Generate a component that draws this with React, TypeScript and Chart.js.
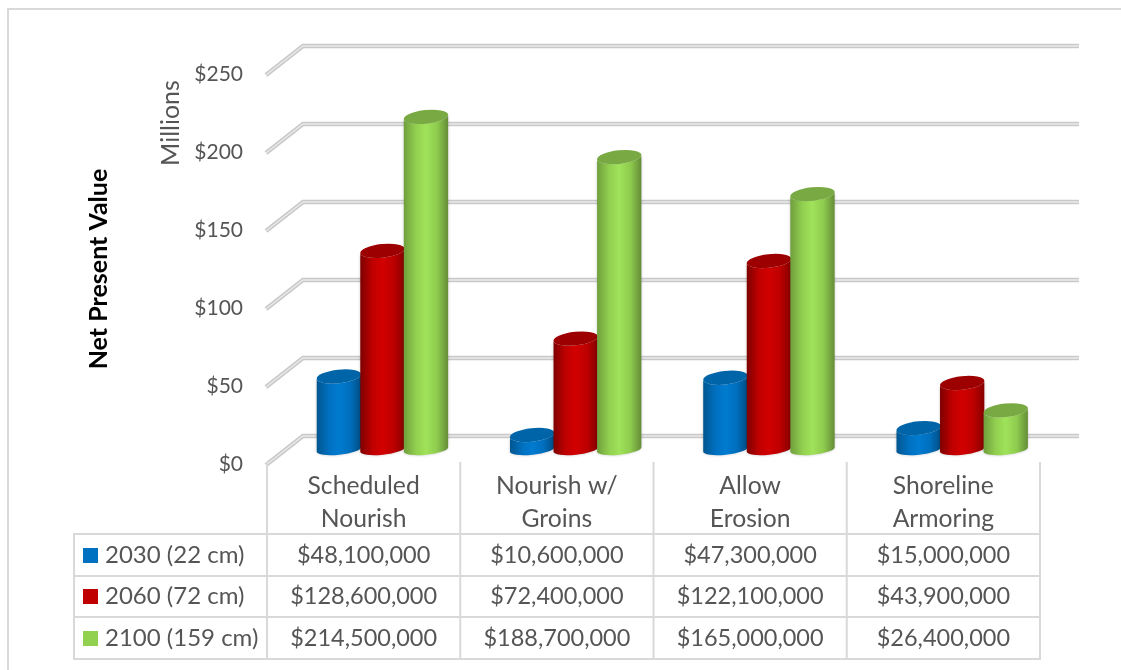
import React, { useEffect, useRef } from "react";
import { Chart, registerables } from "chart.js";

Chart.register(...registerables);

const categories = [["Scheduled", "Nourish"], ["Nourish w/", "Groins"], ["Allow", "Erosion"], ["Shoreline", "Armoring"]];
const seriesNames = ["2030 (22 cm)", "2060 (72 cm)", "2100 (159 cm)"];
const values2030 = [48100000, 10600000, 47300000, 15000000];
const values2060 = [128600000, 72400000, 122100000, 43900000];
const values2100 = [214500000, 188700000, 165000000, 26400000];
const swatchColors = ["#0070C0", "#C00000", "#92D050"];

const FONT = "Lato";
const TEXT = "#555555";
const LINE = "#d9d9d9";
const DEPTH_X = 36;
const DEPTH_Y = 28;
const BAR_SHIFT = 18.8;
const TOP_LIFT = 12.5;
const BASE_LIFT = 14.5;
const BACK_RIGHT = 1079;
const TABLE_LEFT = 74;
const ROW_LINES = [534, 576, 617, 659];
const TILT = (-6 * Math.PI) / 180;

const bodyStops = [
  ["#00568f", "#0070C0", "#007bd0", "#006fbe", "#004d85"],
  ["#7d0000", "#c00000", "#d20000", "#bd0000", "#860000"],
  ["#6f9e3c", "#92D050", "#a0e25a", "#8ecb4e", "#648c36"],
];
const topColors = ["#0065a8", "#9c0000", "#78a942"];

function drawCylinder(ctx: CanvasRenderingContext2D, cx: number, top: number, base: number, rx: number, series: number) {
  const dx = rx * Math.cos(TILT);
  const dy = rx * Math.sin(TILT);
  const g = ctx.createLinearGradient(cx - rx, 0, cx + rx, 0);
  [0, 0.28, 0.5, 0.75, 1].forEach((s, i) => g.addColorStop(s, bodyStops[series][i]));
  ctx.save();
  ctx.shadowColor = "rgba(0,0,0,0.22)";
  ctx.shadowBlur = 3;
  ctx.beginPath();
  ctx.moveTo(cx - dx, top - dy);
  ctx.lineTo(cx - dx, base - dy);
  ctx.ellipse(cx, base, rx, 5.2, TILT, Math.PI, 0, true);
  ctx.lineTo(cx + dx, top + dy);
  ctx.ellipse(cx, top, rx, 6.8, TILT, 0, Math.PI, false);
  ctx.closePath();
  ctx.fillStyle = g;
  ctx.fill();
  ctx.restore();
  ctx.beginPath();
  ctx.ellipse(cx, top, rx, 6.8, TILT, 0, Math.PI * 2);
  ctx.fillStyle = topColors[series];
  ctx.fill();
}

function wallLine(ctx: CanvasRenderingContext2D, pts: number[][]) {
  ctx.lineJoin = "miter";
  ctx.lineCap = "butt";
  [[4.4, "#c9c9c9"], [1.4, "#e9e9e9"]].forEach(([w, c]) => {
    ctx.beginPath();
    pts.forEach(([x, y], i) => (i ? ctx.lineTo(x, y) : ctx.moveTo(x, y)));
    ctx.lineWidth = w as number;
    ctx.strokeStyle = c as string;
    ctx.stroke();
  });
}

const scene3d = {
  id: "scene3d",
  beforeDatasetsDraw(chart: any) {
    const { ctx, scales, chartArea } = chart;
    ctx.save();
    scales.y.ticks.forEach((t: any) => {
      const y = scales.y.getPixelForValue(t.value);
      wallLine(ctx, [
        [chartArea.left - 1, y + 1],
        [chartArea.left + DEPTH_X, y - DEPTH_Y],
        [BACK_RIGHT, y - DEPTH_Y],
      ]);
    });
    chart.data.datasets.forEach((_: any, d: number) => {
      chart.getDatasetMeta(d).data.forEach((bar: any) => {
        drawCylinder(ctx, bar.x + BAR_SHIFT, bar.y - TOP_LIFT, bar.base - BASE_LIFT, bar.width / 2 + 0.5, d);
      });
    });
    ctx.restore();
  },
  beforeDatasetDraw() {
    return false;
  },
  afterDraw(chart: any) {
    const { ctx, scales, chartArea } = chart;
    ctx.save();
    // outer frame
    ctx.strokeStyle = LINE;
    ctx.lineWidth = 2;
    ctx.beginPath();
    ctx.moveTo(8, 670);
    ctx.lineTo(8, 9);
    ctx.lineTo(1121, 9);
    ctx.stroke();
    // data table
    const colEdges = [0, 1, 2, 3].map((i) => scales.x.getPixelForValue(i) - (scales.x.getPixelForValue(1) - scales.x.getPixelForValue(0)) / 2);
    colEdges.push(chartArea.right);
    ctx.beginPath();
    colEdges.forEach((x) => {
      ctx.moveTo(x, chartArea.bottom - 2);
      ctx.lineTo(x, ROW_LINES[3] + 1);
    });
    ctx.moveTo(TABLE_LEFT, ROW_LINES[0]);
    ctx.lineTo(TABLE_LEFT, ROW_LINES[3] + 1);
    ROW_LINES.forEach((y) => {
      ctx.moveTo(TABLE_LEFT - 1, y);
      ctx.lineTo(chartArea.right + 1, y);
    });
    ctx.stroke();
    ctx.textBaseline = "middle";
    ctx.fillStyle = TEXT;
    chart.data.datasets.forEach((ds: any, r: number) => {
      const cy = (ROW_LINES[r] + ROW_LINES[r + 1]) / 2;
      ctx.fillStyle = swatchColors[r];
      ctx.fillRect(83, Math.round(cy - 7.5), 15, 15);
      ctx.fillStyle = TEXT;
      ctx.textAlign = "left";
      ctx.font = `24px ${FONT}`;
      ctx.fillText(ds.label, 105, cy);
      ctx.textAlign = "center";
      ctx.font = `23.5px ${FONT}`;
      ds.data.forEach((v: number, i: number) => {
        ctx.fillText("$" + v.toLocaleString("en-US"), scales.x.getPixelForValue(i), cy);
      });
    });
    // unit label
    ctx.translate(171, 123);
    ctx.rotate(-Math.PI / 2);
    ctx.textAlign = "center";
    ctx.font = `25px ${FONT}`;
    ctx.fillText("Millions", 0, 0);
    ctx.restore();
  },
};

export default function App() {
  const ref = useRef<HTMLCanvasElement>(null);
  useEffect(() => {
    const chart = new Chart(ref.current as HTMLCanvasElement, {
      type: "bar",
      data: {
        labels: categories as any,
        datasets: [
          { label: seriesNames[0], data: values2030, backgroundColor: swatchColors[0] },
          { label: seriesNames[1], data: values2060, backgroundColor: swatchColors[1] },
          { label: seriesNames[2], data: values2100, backgroundColor: swatchColors[2] },
        ],
      },
      options: {
        responsive: false,
        animation: false,
        barPercentage: 1,
        categoryPercentage: 0.676,
        layout: { padding: { top: 74, right: 81, left: 0, bottom: 0 } },
        plugins: { legend: { display: false }, tooltip: { enabled: false }, title: { display: false } },
        scales: {
          x: {
            grid: { display: false, drawTicks: false },
            border: { display: false },
            ticks: {
              color: TEXT,
              font: { family: FONT, size: 24.7, lineHeight: "33px" as any },
              padding: 6,
              maxRotation: 0,
              autoSkip: false,
            },
            afterFit(s: any) {
              s.height = 206;
            },
          },
          y: {
            min: 0,
            max: 250000000,
            grid: { display: false, drawTicks: false },
            border: { display: false },
            title: {
              display: true,
              text: "Net Present Value",
              color: "#000000",
              font: { family: FONT, size: 25, weight: "bold" },
              padding: { top: 84, bottom: 0 },
            },
            ticks: {
              stepSize: 50000000,
              color: TEXT,
              font: { family: FONT, size: 21 },
              padding: 24,
              callback: (v: any) => "$" + Number(v) / 1000000,
            },
            afterFit(s: any) {
              s.width = 267;
            },
          },
        },
      },
      plugins: [scene3d as any],
    } as any);
    return () => chart.destroy();
  }, []);
  return (
    <div style={{ position: "fixed", left: 0, top: 0, width: 1121, height: 670, background: "#fff" }}>
      <canvas ref={ref} width={1121} height={670} style={{ display: "block" }} />
    </div>
  );
}
